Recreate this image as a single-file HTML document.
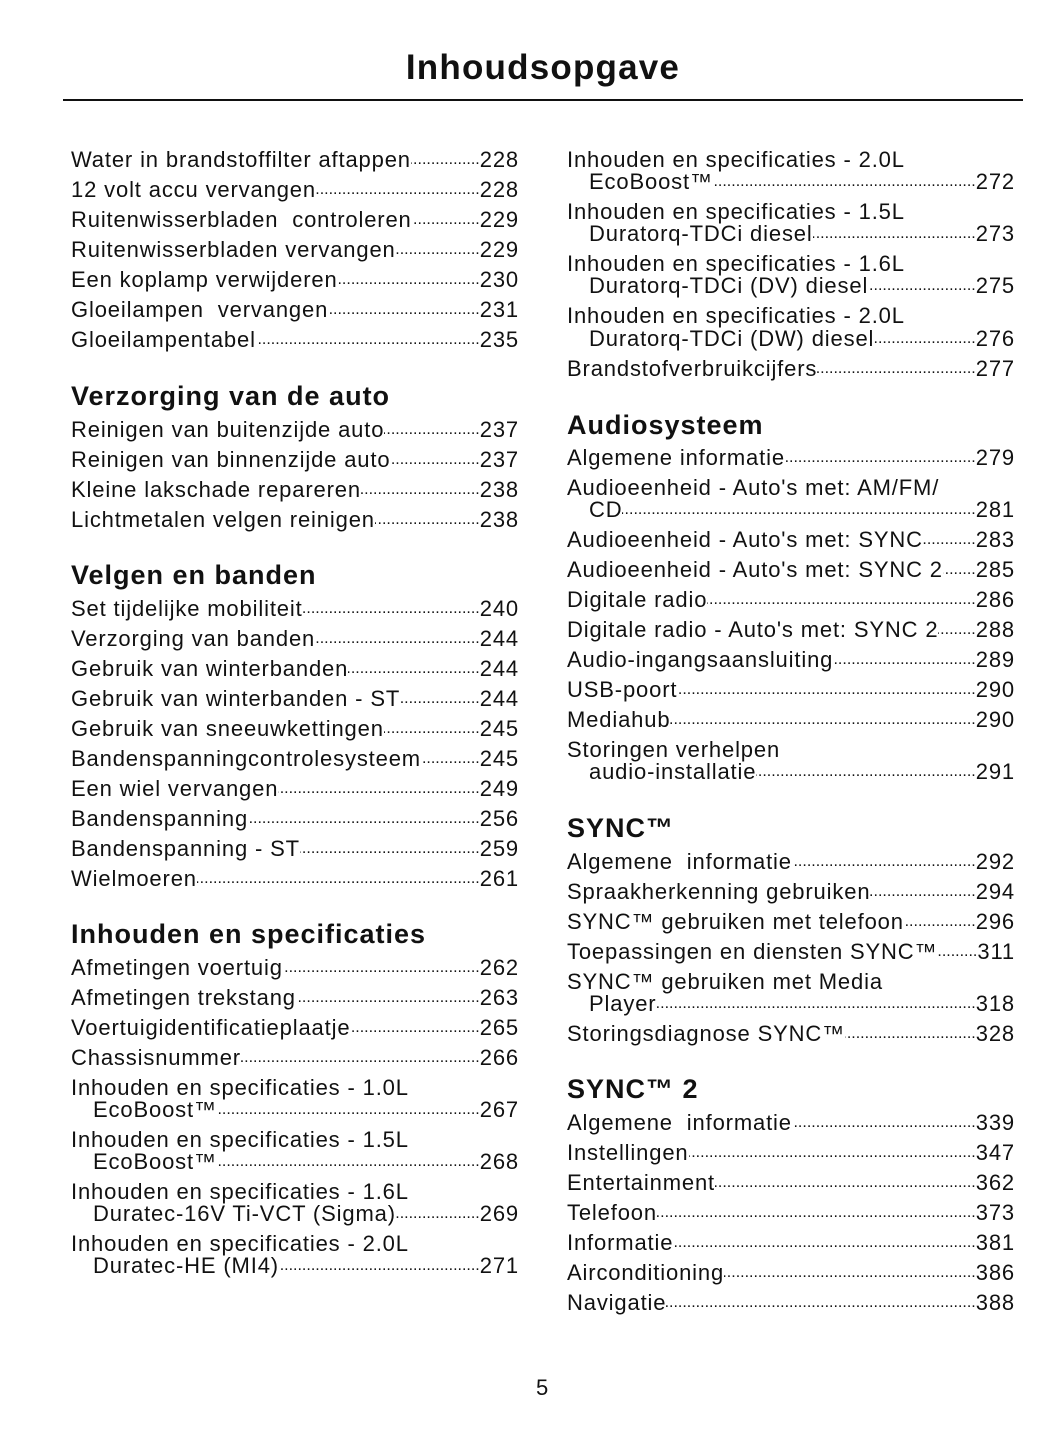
<!DOCTYPE html>
<html><head><meta charset="utf-8"><style>
body{margin:0;width:1056px;height:1449px;background:#fff;position:relative;font-family:"Liberation Sans",sans-serif;color:#111;overflow:hidden}
.t{position:absolute;left:0;width:1086px;text-align:center;top:46px;font-size:35px;letter-spacing:1.2px;font-weight:bold;line-height:44px}
.r{position:absolute;left:63px;width:960px;top:99px;height:2px;background:#111}
.l{position:absolute;width:448px;display:flex;white-space:nowrap;font-size:22px;letter-spacing:0.85px;line-height:26px}
.d{flex:1;overflow:hidden;letter-spacing:0;font-size:16px;direction:rtl;text-align:right}
.i{position:absolute;font-size:22px;letter-spacing:0.85px;line-height:26px;white-space:nowrap}
.h{position:absolute;font-size:27px;letter-spacing:1px;font-weight:bold;line-height:32px;white-space:nowrap}
.a{left:71px}.b{left:567px}
.a2{left:93px;width:426px}.b2{left:589px;width:426px}
</style></head><body>
<div class="t">Inhoudsopgave</div><div class="r"></div>

<div class="l a" style="top:147px">Water in brandstoffilter aftappen<span class="d">....................................................................................................................................</span>228</div>
<div class="l a" style="top:177px">12 volt accu vervangen<span class="d">....................................................................................................................................</span>228</div>
<div class="l a" style="top:207px">Ruitenwisserbladen&nbsp; controleren<span class="d">....................................................................................................................................</span>229</div>
<div class="l a" style="top:237px">Ruitenwisserbladen vervangen<span class="d">....................................................................................................................................</span>229</div>
<div class="l a" style="top:267px">Een koplamp verwijderen<span class="d">....................................................................................................................................</span>230</div>
<div class="l a" style="top:297px">Gloeilampen&nbsp; vervangen<span class="d">....................................................................................................................................</span>231</div>
<div class="l a" style="top:327px">Gloeilampentabel<span class="d">....................................................................................................................................</span>235</div>
<div class="h a" style="top:380px">Verzorging van de auto</div>
<div class="l a" style="top:417px">Reinigen van buitenzijde auto<span class="d">....................................................................................................................................</span>237</div>
<div class="l a" style="top:447px">Reinigen van binnenzijde auto<span class="d">....................................................................................................................................</span>237</div>
<div class="l a" style="top:477px">Kleine lakschade repareren<span class="d">....................................................................................................................................</span>238</div>
<div class="l a" style="top:507px">Lichtmetalen velgen reinigen<span class="d">....................................................................................................................................</span>238</div>
<div class="h a" style="top:559px">Velgen en banden</div>
<div class="l a" style="top:596px">Set tijdelijke mobiliteit<span class="d">....................................................................................................................................</span>240</div>
<div class="l a" style="top:626px">Verzorging van banden<span class="d">....................................................................................................................................</span>244</div>
<div class="l a" style="top:656px">Gebruik van winterbanden<span class="d">....................................................................................................................................</span>244</div>
<div class="l a" style="top:686px">Gebruik van winterbanden - ST<span class="d">....................................................................................................................................</span>244</div>
<div class="l a" style="top:716px">Gebruik van sneeuwkettingen<span class="d">....................................................................................................................................</span>245</div>
<div class="l a" style="top:746px">Bandenspanningcontrolesysteem<span class="d">....................................................................................................................................</span>245</div>
<div class="l a" style="top:776px">Een wiel vervangen<span class="d">....................................................................................................................................</span>249</div>
<div class="l a" style="top:806px">Bandenspanning<span class="d">....................................................................................................................................</span>256</div>
<div class="l a" style="top:836px">Bandenspanning - ST<span class="d">....................................................................................................................................</span>259</div>
<div class="l a" style="top:866px">Wielmoeren<span class="d">....................................................................................................................................</span>261</div>
<div class="h a" style="top:918px">Inhouden en specificaties</div>
<div class="l a" style="top:955px">Afmetingen voertuig<span class="d">....................................................................................................................................</span>262</div>
<div class="l a" style="top:985px">Afmetingen trekstang<span class="d">....................................................................................................................................</span>263</div>
<div class="l a" style="top:1015px">Voertuigidentificatieplaatje<span class="d">....................................................................................................................................</span>265</div>
<div class="l a" style="top:1045px">Chassisnummer<span class="d">....................................................................................................................................</span>266</div>
<div class="i a" style="top:1075px">Inhouden en specificaties - 1.0L</div>
<div class="l a2" style="top:1097px">EcoBoost™<span class="d">....................................................................................................................................</span>267</div>
<div class="i a" style="top:1127px">Inhouden en specificaties - 1.5L</div>
<div class="l a2" style="top:1149px">EcoBoost™<span class="d">....................................................................................................................................</span>268</div>
<div class="i a" style="top:1179px">Inhouden en specificaties - 1.6L</div>
<div class="l a2" style="top:1201px">Duratec-16V Ti-VCT (Sigma)<span class="d">....................................................................................................................................</span>269</div>
<div class="i a" style="top:1231px">Inhouden en specificaties - 2.0L</div>
<div class="l a2" style="top:1253px">Duratec-HE (MI4)<span class="d">....................................................................................................................................</span>271</div>

<div class="i b" style="top:147px">Inhouden en specificaties - 2.0L</div>
<div class="l b2" style="top:169px">EcoBoost™<span class="d">....................................................................................................................................</span>272</div>
<div class="i b" style="top:199px">Inhouden en specificaties - 1.5L</div>
<div class="l b2" style="top:221px">Duratorq-TDCi diesel<span class="d">....................................................................................................................................</span>273</div>
<div class="i b" style="top:251px">Inhouden en specificaties - 1.6L</div>
<div class="l b2" style="top:273px">Duratorq-TDCi (DV) diesel<span class="d">....................................................................................................................................</span>275</div>
<div class="i b" style="top:303px">Inhouden en specificaties - 2.0L</div>
<div class="l b2" style="top:326px">Duratorq-TDCi (DW) diesel<span class="d">....................................................................................................................................</span>276</div>
<div class="l b" style="top:356px">Brandstofverbruikcijfers<span class="d">....................................................................................................................................</span>277</div>
<div class="h b" style="top:409px">Audiosysteem</div>
<div class="l b" style="top:445px">Algemene informatie<span class="d">....................................................................................................................................</span>279</div>
<div class="i b" style="top:475px">Audioeenheid - Auto's met: AM/FM/</div>
<div class="l b2" style="top:497px">CD<span class="d">....................................................................................................................................</span>281</div>
<div class="l b" style="top:527px">Audioeenheid - Auto's met: SYNC<span class="d">....................................................................................................................................</span>283</div>
<div class="l b" style="top:557px">Audioeenheid - Auto's met: SYNC 2<span class="d">....................................................................................................................................</span>285</div>
<div class="l b" style="top:587px">Digitale radio<span class="d">....................................................................................................................................</span>286</div>
<div class="l b" style="top:617px">Digitale radio - Auto's met: SYNC 2<span class="d">....................................................................................................................................</span>288</div>
<div class="l b" style="top:647px">Audio-ingangsaansluiting<span class="d">....................................................................................................................................</span>289</div>
<div class="l b" style="top:677px">USB-poort<span class="d">....................................................................................................................................</span>290</div>
<div class="l b" style="top:707px">Mediahub<span class="d">....................................................................................................................................</span>290</div>
<div class="i b" style="top:737px">Storingen verhelpen</div>
<div class="l b2" style="top:759px">audio-installatie<span class="d">....................................................................................................................................</span>291</div>
<div class="h b" style="top:812px">SYNC™</div>
<div class="l b" style="top:849px">Algemene&nbsp; informatie<span class="d">....................................................................................................................................</span>292</div>
<div class="l b" style="top:879px">Spraakherkenning gebruiken<span class="d">....................................................................................................................................</span>294</div>
<div class="l b" style="top:909px">SYNC™ gebruiken met telefoon<span class="d">....................................................................................................................................</span>296</div>
<div class="l b" style="top:939px">Toepassingen en diensten SYNC™<span class="d">....................................................................................................................................</span>311</div>
<div class="i b" style="top:969px">SYNC™ gebruiken met Media</div>
<div class="l b2" style="top:991px">Player<span class="d">....................................................................................................................................</span>318</div>
<div class="l b" style="top:1021px">Storingsdiagnose SYNC™<span class="d">....................................................................................................................................</span>328</div>
<div class="h b" style="top:1073px">SYNC™ 2</div>
<div class="l b" style="top:1110px">Algemene&nbsp; informatie<span class="d">....................................................................................................................................</span>339</div>
<div class="l b" style="top:1140px">Instellingen<span class="d">....................................................................................................................................</span>347</div>
<div class="l b" style="top:1170px">Entertainment<span class="d">....................................................................................................................................</span>362</div>
<div class="l b" style="top:1200px">Telefoon<span class="d">....................................................................................................................................</span>373</div>
<div class="l b" style="top:1230px">Informatie<span class="d">....................................................................................................................................</span>381</div>
<div class="l b" style="top:1260px">Airconditioning<span class="d">....................................................................................................................................</span>386</div>
<div class="l b" style="top:1290px">Navigatie<span class="d">....................................................................................................................................</span>388</div>

<div class="i" style="top:1375px;left:536px">5</div>
</body></html>
